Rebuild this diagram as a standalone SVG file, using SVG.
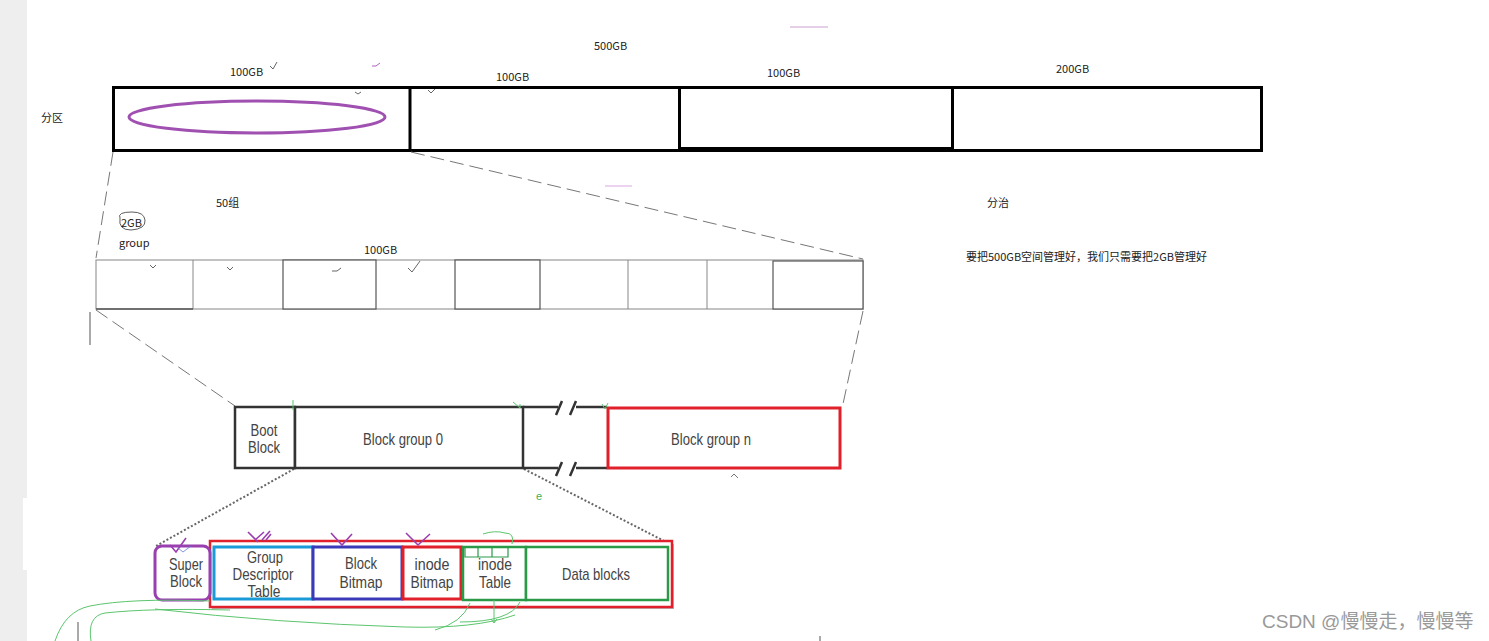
<svg xmlns="http://www.w3.org/2000/svg" width="1489" height="641" viewBox="0 0 1489 641">
<style>
.lbl{font-family:"Noto Sans CJK SC","Liberation Sans",sans-serif;font-size:11px;fill:#222}
.cond{font-family:"Liberation Sans",sans-serif;fill:#444;text-anchor:middle;font-size:17px}
.part{fill:#fff;stroke:#000;stroke-width:3}
.grp{fill:#fff;stroke:#9a9a9a;stroke-width:1.2}
.grpd{fill:#fff;stroke:#555;stroke-width:1.2}
.dash{fill:none;stroke:#777;stroke-width:1;stroke-dasharray:14 6}
.dot{fill:none;stroke:#666;stroke-width:2;stroke-dasharray:2 2}
.chk{fill:none;stroke:#666;stroke-width:1}
.pchk{fill:none;stroke:#9a3fb0;stroke-width:1.6}
.gcurve{fill:none;stroke:#5cc56e;stroke-width:1}
</style>
<rect x="0" y="0" width="1489" height="641" fill="#fff"/>
<rect x="0" y="0" width="27" height="641" fill="#eeeeee"/>
<rect x="23" y="498" width="6" height="72" fill="#fff"/>

<g id="labels-top">
<text class="lbl" x="594" y="50">500GB</text>
<text class="lbl" x="230" y="76">100GB</text>
<text class="lbl" x="496" y="81">100GB</text>
<text class="lbl" x="767" y="77">100GB</text>
<text class="lbl" x="1056" y="73">200GB</text>
<text class="lbl" x="41" y="122">分区</text>
<line x1="790" y1="27" x2="828" y2="27" stroke="#c9a0d0" stroke-width="1"/>
<line x1="605" y1="186" x2="632" y2="186" stroke="#d8a8e0" stroke-width="1"/>
</g>

<g id="partition">
<rect class="part" x="113.5" y="87.5" width="1148" height="63"/>
<line x1="410" y1="87" x2="410" y2="151" stroke="#000" stroke-width="3"/>
<rect x="679.5" y="87.5" width="273" height="61" fill="none" stroke="#000" stroke-width="3"/>
<ellipse cx="257" cy="117" rx="128" ry="16" fill="none" stroke="#a050b0" stroke-width="3"/>
<path class="chk" d="M270 66 l3 3 l4 -7"/>
<path class="chk" d="M355 92 l3 2 l3 -2"/>
<path class="chk" d="M428 90 l3 3 l4 -4"/>
<path d="M372 66 l4 0 l4 -3" fill="none" stroke="#b060c0" stroke-width="1"/>
</g>

<g id="connectors">
<line class="dash" x1="113" y1="152" x2="96" y2="258"/>
<line class="dash" x1="411" y1="152" x2="863" y2="259"/>
<line x1="90" y1="312" x2="90" y2="345" stroke="#555" stroke-width="1"/>
<line class="dash" x1="96" y1="310" x2="235" y2="406"/>
<line class="dash" x1="863" y1="311" x2="843" y2="404"/>
<line class="dot" x1="294" y1="469" x2="156" y2="546"/>
<line class="dot" x1="524" y1="469" x2="668" y2="543"/>
</g>

<g id="group-labels">
<text class="lbl" x="216" y="207">50组</text>
<text class="lbl" x="121" y="227">2GB</text>
<path d="M120 218 q-3 -6 12 -6 q12 0 13 8 q1 9 -14 10 q-13 0 -11 -12" fill="none" stroke="#333" stroke-width="0.8"/>
<text class="lbl" x="119" y="247">group</text>
<text class="lbl" x="364" y="254">100GB</text>
</g>

<g id="groups">
<rect class="grp" x="96" y="260" width="767" height="49"/>
<line x1="193" y1="260" x2="193" y2="309" stroke="#888"/>
<rect class="grpd" x="283" y="260" width="93" height="49"/>
<rect class="grpd" x="455" y="260" width="85" height="49"/>
<line x1="628" y1="260" x2="628" y2="309" stroke="#888"/>
<line x1="707" y1="260" x2="707" y2="309" stroke="#888"/>
<rect class="grpd" x="773" y="261" width="90" height="48"/>
<line x1="96" y1="309" x2="193" y2="309" stroke="#555" stroke-width="1.5"/>
<path class="chk" d="M150 265 l3 3 l3 -3"/>
<path class="chk" d="M227 267 l3 3 l3 -3"/>
<path class="chk" d="M332 271 l5 0 l4 -3"/>
<path class="chk" d="M408 268 l4 4 l8 -11"/>
</g>

<g id="block-row">
<rect x="235" y="407" width="60" height="61" fill="#fff" stroke="#333" stroke-width="2.5"/>
<text class="cond" x="264" y="436" textLength="27" lengthAdjust="spacingAndGlyphs">Boot</text>
<text class="cond" x="264" y="453" textLength="32" lengthAdjust="spacingAndGlyphs">Block</text>
<rect x="295" y="407" width="228" height="61" fill="#fff" stroke="#333" stroke-width="2.5"/>
<text class="cond" x="403" y="445" textLength="80" lengthAdjust="spacingAndGlyphs">Block group 0</text>
<line x1="523" y1="407" x2="558" y2="407" stroke="#333" stroke-width="2.5"/>
<line x1="576" y1="407" x2="607" y2="407" stroke="#333" stroke-width="2.5"/>
<line x1="523" y1="468" x2="558" y2="468" stroke="#333" stroke-width="2.5"/>
<line x1="576" y1="468" x2="607" y2="468" stroke="#333" stroke-width="2.5"/>
<path d="M556 415 l6 -14 M570 415 l6 -14 M556 476 l6 -14 M570 476 l6 -14" stroke="#333" stroke-width="2.5"/>
<rect x="608" y="408" width="232" height="60" fill="#fff" stroke="#e0202a" stroke-width="3"/>
<text class="cond" x="711" y="445" textLength="80" lengthAdjust="spacingAndGlyphs">Block group n</text>
<path d="M513 402 l7 6 l0 -4" fill="none" stroke="#5cc56e" stroke-width="1"/>
<path d="M602 404 l3 5 l3 -6" fill="none" stroke="#5cc56e" stroke-width="1"/>
<line x1="293" y1="400" x2="293" y2="410" stroke="#5cc56e"/>
<path d="M731 477 l3 -3 l4 4" fill="none" stroke="#777" stroke-width="1"/>
<text x="536" y="500" font-family="Liberation Sans, sans-serif" font-size="11" fill="#3cb05a">e</text>
</g>

<g id="block-group-detail">
<rect x="212" y="544" width="462" height="65" fill="#888" opacity="0.6"/>
<rect x="210" y="541" width="462" height="66" fill="#fff" stroke="#e0202a" stroke-width="2.5"/>
<rect x="155" y="546" width="55" height="54" rx="7" fill="#fff" stroke="#9a3fb0" stroke-width="3"/>
<text class="cond" x="186" y="570" textLength="34" lengthAdjust="spacingAndGlyphs">Super</text>
<text class="cond" x="186" y="587" textLength="32" lengthAdjust="spacingAndGlyphs">Block</text>
<rect x="214" y="547" width="99" height="52" fill="#fff" stroke="#1a9ad6" stroke-width="3"/>
<text class="cond" x="265" y="563" textLength="36" lengthAdjust="spacingAndGlyphs">Group</text>
<text class="cond" x="263" y="580" textLength="61" lengthAdjust="spacingAndGlyphs">Descriptor</text>
<text class="cond" x="264" y="597" textLength="33" lengthAdjust="spacingAndGlyphs">Table</text>
<rect x="313" y="547" width="89" height="52" fill="#fff" stroke="#3a3ab8" stroke-width="3"/>
<text class="cond" x="361" y="569" textLength="32" lengthAdjust="spacingAndGlyphs">Block</text>
<text class="cond" x="361" y="588" textLength="43" lengthAdjust="spacingAndGlyphs">Bitmap</text>
<rect x="403" y="547" width="58" height="52" fill="#fff" stroke="#e0202a" stroke-width="3"/>
<text class="cond" x="432" y="570" textLength="35" lengthAdjust="spacingAndGlyphs">inode</text>
<text class="cond" x="432" y="588" textLength="43" lengthAdjust="spacingAndGlyphs">Bitmap</text>
<rect x="463" y="547" width="63" height="53" fill="#fff" stroke="#2a9a48" stroke-width="2.5"/>
<text class="cond" x="495" y="570" textLength="34" lengthAdjust="spacingAndGlyphs">inode</text>
<text class="cond" x="495" y="588" textLength="32" lengthAdjust="spacingAndGlyphs">Table</text>
<rect x="526" y="547" width="142" height="53" fill="#fff" stroke="#2a9a48" stroke-width="2.5"/>
<text class="cond" x="596" y="580" textLength="68" lengthAdjust="spacingAndGlyphs">Data blocks</text>
<path d="M465 547 h43 v10 h-43 z M478 547 v10 M492 547 v10" fill="none" stroke="#2a9a48" stroke-width="1.2"/>
<path class="pchk" d="M170 545 l6 7 l10 -14"/>
<path d="M178 548 l5 4 l8 -6" fill="none" stroke="#6a7ad0" stroke-width="0.8"/>
<path class="pchk" d="M248 532 l10 10 M255 540 l9 -8 M262 540 l8 -9 M266 540 l5 -6"/>
<path class="pchk" d="M331 533 l11 12 l10 -11"/>
<path class="pchk" d="M406 533 l12 12 l12 -11"/>
<path class="gcurve" d="M483 534 q12 -4 22 -1 q10 0 7 11"/>
</g>

<g id="annotations">
<path class="gcurve" d="M210 601 q-80 -3 -120 5 q-25 5 -35 35"/>
<path class="gcurve" d="M230 610 q-80 -2 -125 3 q-18 3 -14 28"/>
<path class="gcurve" d="M155 609 q120 14 250 18 q70 2 110 -12"/>
<path class="gcurve" d="M470 603 q-8 20 -35 27"/>
<path class="gcurve" d="M520 602 q-10 20 -60 20"/>
<path class="gcurve" d="M494 600 v22 m-3 -3 l3 4 l3 -4"/>
<line x1="78" y1="622" x2="78" y2="641" stroke="#555"/>
<line x1="820" y1="636" x2="820" y2="641" stroke="#555"/>
</g>

<g id="notes">
<text class="lbl" x="987" y="207">分治</text>
<text class="lbl" x="966" y="261">要把500GB空间管理好，我们只需要把2GB管理好</text>
</g>

<text x="1262" y="628" font-family="Liberation Sans, 'Noto Sans CJK SC', sans-serif" font-size="19" fill="#999">CSDN @慢慢走，慢慢等</text>
</svg>
